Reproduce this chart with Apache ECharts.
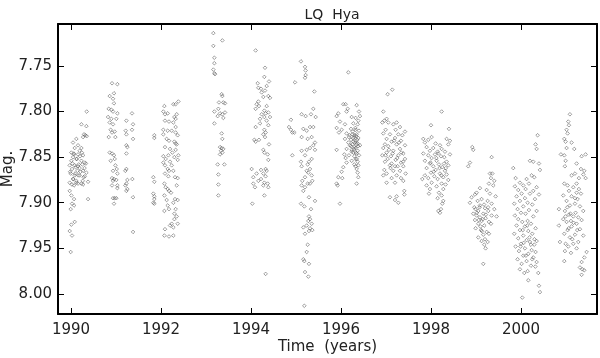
<!DOCTYPE html>
<html><head><meta charset="utf-8">
<script src="https://cdn.jsdelivr.net/npm/echarts@6/dist/echarts.min.js"></script>
<style>html,body{margin:0;padding:0;background:#fff}#c{width:600px;height:358px}</style>
</head><body><div id="c"></div>
<script>
const titleText = "LQ  Hya";
const xName = "Time  (years)";
const yName = "Mag.";
const xTicks = [1990, 1992, 1994, 1996, 1998, 2000];
const yTicks = [7.75, 7.80, 7.85, 7.90, 7.95, 8.00];

const s1 = [[1990.348,7.800],[1990.230,7.814],[1990.341,7.816],[1990.289,7.825],[1990.318,7.826],[1990.348,7.827],[1990.267,7.828],[1990.118,7.830],[1990.044,7.834],[1990.155,7.837],[1990.081,7.840],[1990.230,7.840],[1990.192,7.843],[1990.007,7.845],[1990.067,7.847],[1990.155,7.847],[1990.267,7.848],[1990.044,7.850],[1990.118,7.852],[1990.007,7.854],[1990.230,7.854],[1989.970,7.859],[1990.081,7.859],[1990.155,7.860],[1990.304,7.856],[1990.022,7.863],[1990.141,7.865],[1990.267,7.865],[1990.341,7.867],[1989.992,7.868],[1990.081,7.870],[1990.192,7.870],[1990.304,7.871],[1990.044,7.874],[1990.118,7.876],[1990.378,7.877],[1989.970,7.878],[1990.230,7.879],[1990.155,7.879],[1990.067,7.881],[1990.267,7.880],[1989.970,7.887],[1990.007,7.892],[1990.067,7.896],[1990.378,7.896],[1990.022,7.901],[1990.067,7.903],[1989.992,7.907],[1990.081,7.921],[1990.007,7.924],[1989.970,7.931],[1990.022,7.936],[1989.992,7.954],
[1990.03,7.857],[1990.10,7.861],[1990.17,7.858],[1990.21,7.866],[1990.25,7.858],[1990.09,7.868],[1990.13,7.852],[1990.28,7.872],[1990.05,7.874],[1990.20,7.849],[1990.30,7.862],[1989.98,7.866],[1990.12,7.878],[1990.24,7.845],[1990.16,7.870],[1990.06,7.846],[1990.33,7.857],[1990.26,7.876],[1990.02,7.880],[1990.19,7.862]];

const s2 = [[1990.911,7.769],[1991.030,7.770],[1990.859,7.783],[1990.955,7.780],[1990.933,7.786],[1990.955,7.791],[1990.837,7.797],[1990.896,7.798],[1990.933,7.800],[1991.030,7.802],[1990.822,7.806],[1990.896,7.808],[1991.007,7.808],[1990.859,7.812],[1990.933,7.814],[1990.881,7.820],[1990.911,7.823],[1990.970,7.822],[1990.837,7.828],[1990.985,7.828],[1990.859,7.845],[1990.911,7.846],[1990.955,7.848],[1990.881,7.854],[1990.970,7.852],[1990.985,7.859],[1991.015,7.863],[1990.933,7.865],[1991.030,7.868],[1990.911,7.873],[1990.955,7.874],[1990.933,7.876],[1991.007,7.875],[1990.911,7.881],[1991.030,7.881],[1991.030,7.884],[1990.970,7.895],[1990.933,7.895],[1991.007,7.895],[1990.955,7.901],
[1991.355,7.802],[1991.230,7.810],[1991.378,7.814],[1991.355,7.820],[1991.215,7.821],[1991.230,7.825],[1991.378,7.830],[1991.230,7.837],[1991.252,7.839],[1991.230,7.846],[1991.230,7.863],[1991.207,7.865],[1991.252,7.875],[1991.363,7.874],[1991.230,7.879],[1991.207,7.881],[1991.252,7.885],[1991.230,7.887],[1991.378,7.894],[1991.378,7.932]];

const s3 = [[1991.851,7.826],[1991.851,7.829],[1991.829,7.872],[1991.851,7.877],[1991.829,7.890],[1991.851,7.893],[1991.851,7.896],[1991.829,7.900],[1991.851,7.901],[1992.385,7.789],[1992.274,7.792],[1992.325,7.792],[1992.074,7.794],[1992.051,7.800],[1992.088,7.803],[1992.148,7.802],[1992.348,7.803],[1992.296,7.806],[1992.325,7.808],[1992.088,7.810],[1992.177,7.811],[1992.274,7.812],[1992.325,7.817],[1992.051,7.820],[1992.148,7.821],[1992.237,7.821],[1992.325,7.823],[1992.370,7.826],[1992.051,7.825],[1992.125,7.830],[1992.177,7.832],[1992.296,7.833],[1992.325,7.835],[1992.348,7.836],[1992.088,7.839],[1992.200,7.841],[1992.325,7.842],[1992.251,7.845],[1992.385,7.848],[1992.051,7.849],[1992.163,7.848],[1992.103,7.852],[1992.296,7.850],[1992.370,7.853],[1992.051,7.856],[1992.200,7.855],[1992.088,7.859],[1992.148,7.863],[1992.237,7.859],[1992.177,7.865],[1992.274,7.865],[1992.088,7.868],[1992.163,7.871],[1992.311,7.872],[1992.370,7.873],[1992.074,7.879],[1992.103,7.883],[1992.348,7.881],[1992.177,7.887],[1992.148,7.885],[1992.222,7.889],[1992.074,7.892],[1992.125,7.897],[1992.311,7.896],[1992.370,7.897],[1992.274,7.900],[1992.148,7.903],[1992.177,7.907],[1992.325,7.907],[1992.074,7.909],[1992.296,7.912],[1992.348,7.915],[1992.296,7.918],[1992.370,7.923],[1992.237,7.923],[1992.200,7.925],[1992.274,7.927],[1992.088,7.929],[1992.074,7.936],[1992.177,7.937],[1992.274,7.936]];

const s4 = [[1993.163,7.714],[1993.363,7.722],[1993.163,7.728],[1993.185,7.741],[1993.185,7.747],[1993.163,7.754],[1993.185,7.758],[1993.200,7.759],[1993.348,7.781],[1993.363,7.783],[1993.288,7.790],[1993.385,7.790],[1993.422,7.791],[1993.274,7.797],[1993.185,7.800],[1993.311,7.802],[1993.363,7.803],[1993.422,7.801],[1993.259,7.805],[1993.385,7.807],[1993.185,7.813],[1993.348,7.824],[1993.363,7.830],[1993.311,7.839],[1993.348,7.840],[1993.385,7.841],[1993.333,7.843],[1993.363,7.845],[1993.311,7.847],[1993.259,7.858],[1993.407,7.858],[1993.274,7.869],[1993.274,7.880],[1993.274,7.892]];

const s5 = [[1994.103,7.733],[1994.311,7.752],[1994.296,7.762],[1994.400,7.767],[1994.148,7.769],[1994.348,7.772],[1994.163,7.774],[1994.222,7.775],[1994.311,7.777],[1994.237,7.779],[1994.385,7.783],[1994.274,7.784],[1994.422,7.785],[1994.163,7.789],[1994.125,7.792],[1994.177,7.794],[1994.348,7.794],[1994.103,7.797],[1994.296,7.799],[1994.385,7.801],[1994.325,7.802],[1994.237,7.803],[1994.422,7.806],[1994.296,7.806],[1994.200,7.808],[1994.348,7.810],[1994.200,7.813],[1994.103,7.817],[1994.385,7.815],[1994.296,7.820],[1994.325,7.823],[1994.274,7.825],[1994.311,7.828],[1994.074,7.831],[1994.103,7.833],[1994.177,7.831],[1994.400,7.836],[1994.274,7.842],[1994.296,7.845],[1994.370,7.847],[1994.385,7.853],[1994.014,7.863],[1994.222,7.864],[1994.325,7.863],[1994.348,7.865],[1994.125,7.868],[1994.274,7.868],[1994.051,7.872],[1994.325,7.871],[1994.222,7.874],[1994.163,7.876],[1994.296,7.878],[1994.051,7.879],[1994.370,7.879],[1994.274,7.881],[1994.088,7.883],[1994.385,7.883],[1994.296,7.892],[1994.029,7.901],[1994.325,7.978]];

const s6 = [[1995.111,7.745],[1995.200,7.751],[1995.214,7.755],[1995.214,7.760],[1995.200,7.763],[1994.977,7.768],[1995.407,7.778],[1995.385,7.797],[1995.125,7.803],[1995.214,7.805],[1995.437,7.806],[1995.333,7.803],[1994.888,7.809],[1994.844,7.817],[1994.918,7.823],[1994.963,7.823],[1994.888,7.820],[1995.163,7.819],[1995.237,7.821],[1995.311,7.817],[1995.385,7.817],[1995.125,7.828],[1995.259,7.830],[1995.348,7.828],[1995.422,7.834],[1995.385,7.837],[1995.311,7.840],[1995.237,7.842],[1995.125,7.843],[1995.422,7.842],[1994.918,7.848],[1995.200,7.848],[1995.348,7.852],[1995.111,7.855],[1995.288,7.855],[1995.259,7.858],[1995.125,7.860],[1995.311,7.863],[1995.237,7.865],[1995.274,7.867],[1995.348,7.870],[1995.200,7.872],[1995.140,7.876],[1995.363,7.876],[1995.259,7.879],[1995.311,7.879],[1995.125,7.881],[1995.200,7.883],[1995.163,7.887],[1995.422,7.898],[1995.288,7.894],[1995.111,7.901],[1995.185,7.904],[1995.333,7.907],[1995.288,7.915],[1995.311,7.918],[1995.274,7.920],[1995.348,7.923],[1995.237,7.925],[1995.311,7.928],[1995.163,7.927],[1995.288,7.931],[1995.363,7.930],[1995.200,7.934],[1995.259,7.946],[1995.237,7.954],[1995.163,7.962],[1995.185,7.964],[1995.288,7.967],[1995.200,7.976],[1995.274,7.981],[1995.185,8.013]];

const s7 = [[1996.163,7.757],[1996.051,7.792],[1996.103,7.792],[1996.348,7.793],[1996.148,7.797],[1996.125,7.800],[1996.400,7.800],[1995.940,7.802],[1995.903,7.805],[1996.422,7.805],[1996.237,7.806],[1996.325,7.807],[1996.385,7.810],[1995.977,7.811],[1996.088,7.814],[1996.274,7.813],[1996.370,7.814],[1995.903,7.818],[1996.014,7.820],[1996.222,7.819],[1996.325,7.820],[1996.400,7.821],[1995.955,7.823],[1996.125,7.824],[1996.251,7.825],[1996.348,7.825],[1996.177,7.828],[1996.296,7.828],[1996.385,7.829],[1996.088,7.830],[1996.222,7.831],[1996.325,7.832],[1996.274,7.833],[1996.163,7.834],[1996.370,7.835],[1996.251,7.836],[1996.348,7.836],[1996.200,7.837],[1996.422,7.837],[1996.296,7.839],[1996.325,7.840],[1996.125,7.841],[1996.237,7.842],[1996.370,7.843],[1995.903,7.842],[1996.274,7.845],[1996.348,7.846],[1996.074,7.847],[1996.177,7.848],[1996.400,7.848],[1996.296,7.849],[1996.103,7.851],[1996.325,7.852],[1996.237,7.854],[1996.370,7.855],[1996.125,7.856],[1996.296,7.858],[1996.385,7.859],[1996.325,7.860],[1996.051,7.861],[1996.348,7.863],[1996.014,7.866],[1996.370,7.867],[1995.940,7.872],[1996.029,7.873],[1996.385,7.872],[1995.903,7.879],[1996.348,7.879],[1995.925,7.881],[1995.977,7.901],
[1996.26,7.822],[1996.31,7.834],[1996.34,7.827],[1996.29,7.841],[1996.36,7.831],[1996.22,7.838],[1996.33,7.845],[1996.27,7.829],[1996.38,7.838],[1996.30,7.826],[1996.24,7.844],[1996.35,7.852],[1996.19,7.826],[1996.32,7.818]];

const s8 = [[1997.140,7.776],[1997.037,7.781],[1996.940,7.800],[1997.014,7.808],[1996.963,7.810],[1996.918,7.812],[1997.051,7.812],[1997.237,7.812],[1997.163,7.814],[1997.311,7.817],[1996.992,7.820],[1997.214,7.820],[1997.422,7.822],[1996.940,7.824],[1997.088,7.825],[1997.274,7.825],[1997.363,7.826],[1997.014,7.830],[1997.200,7.829],[1997.125,7.833],[1997.333,7.832],[1996.977,7.836],[1997.237,7.836],[1997.422,7.837],[1996.940,7.840],[1997.066,7.842],[1997.311,7.841],[1997.163,7.843],[1997.014,7.845],[1997.385,7.846],[1996.918,7.848],[1997.111,7.849],[1997.274,7.848],[1997.037,7.852],[1997.214,7.853],[1997.422,7.852],[1996.977,7.855],[1997.333,7.856],[1997.125,7.857],[1997.088,7.859],[1997.259,7.860],[1997.385,7.860],[1996.963,7.864],[1997.163,7.865],[1997.311,7.865],[1997.014,7.868],[1997.437,7.868],[1997.237,7.870],[1996.940,7.870],[1997.125,7.873],[1997.333,7.873],[1997.385,7.876],[1997.014,7.878],[1997.200,7.878],[1997.407,7.887],[1997.407,7.891],[1997.088,7.894],[1997.237,7.893],[1997.200,7.897],[1997.274,7.900],
[1997.05,7.838],[1997.15,7.846],[1997.25,7.851],[1997.34,7.845],[1997.10,7.862],[1997.20,7.860],[1997.29,7.834],[1996.99,7.848],[1997.18,7.832],[1997.38,7.855]];

const s9 = [[1998.237,7.800],[1998.000,7.815],[1998.400,7.819],[1998.014,7.828],[1997.829,7.830],[1997.940,7.831],[1998.348,7.830],[1998.422,7.832],[1997.866,7.834],[1998.103,7.835],[1998.200,7.837],[1998.385,7.836],[1997.903,7.839],[1998.051,7.840],[1998.237,7.841],[1997.977,7.843],[1998.148,7.844],[1998.311,7.844],[1997.829,7.846],[1998.088,7.847],[1998.422,7.847],[1997.940,7.848],[1998.222,7.849],[1998.014,7.851],[1998.296,7.850],[1997.866,7.854],[1998.125,7.854],[1998.348,7.855],[1997.977,7.857],[1998.177,7.858],[1998.385,7.859],[1998.051,7.860],[1997.903,7.862],[1998.251,7.861],[1998.103,7.864],[1998.311,7.865],[1998.000,7.867],[1998.200,7.868],[1998.348,7.869],[1997.866,7.870],[1998.074,7.871],[1998.274,7.872],[1997.940,7.873],[1998.148,7.874],[1998.385,7.875],[1997.807,7.874],[1998.014,7.878],[1998.237,7.879],[1998.325,7.880],[1997.903,7.881],[1998.125,7.882],[1997.977,7.885],[1998.274,7.885],[1998.177,7.889],[1997.955,7.890],[1998.237,7.892],[1998.148,7.895],[1998.274,7.898],[1998.251,7.901],[1998.163,7.909],[1998.222,7.907],[1998.200,7.911],
[1998.12,7.851],[1998.19,7.862],[1998.29,7.857],[1998.06,7.866],[1998.23,7.870],[1998.33,7.862],[1997.99,7.856],[1998.16,7.846]];

const s10 = [[1998.918,7.839],[1998.940,7.842],[1999.348,7.850],[1998.866,7.856],[1998.829,7.860],[1999.311,7.868],[1999.363,7.868],[1999.333,7.873],[1999.407,7.876],[1999.288,7.879],[1999.385,7.881],[1999.088,7.884],[1999.237,7.886],[1999.014,7.889],[1999.311,7.890],[1998.977,7.891],[1999.437,7.893],[1998.903,7.894],[1999.125,7.896],[1999.037,7.898],[1999.259,7.898],[1998.866,7.900],[1999.348,7.901],[1999.088,7.903],[1998.963,7.905],[1999.200,7.906],[1999.407,7.907],[1999.051,7.909],[1999.274,7.909],[1998.940,7.912],[1999.163,7.912],[1999.014,7.914],[1999.348,7.914],[1999.088,7.916],[1999.214,7.917],[1999.459,7.915],[1998.977,7.919],[1999.125,7.920],[1999.288,7.921],[1999.051,7.923],[1999.185,7.925],[1998.992,7.928],[1999.333,7.923],[1999.111,7.930],[1999.237,7.932],[1999.163,7.935],[1999.288,7.934],[1999.051,7.938],[1999.200,7.940],[1999.125,7.942],[1999.259,7.943],[1999.185,7.946],[1999.214,7.950],[1999.163,7.967],
[1999.08,7.905],[1999.15,7.918],[1999.02,7.911],[1999.22,7.913],[1999.10,7.926],[1999.18,7.902],[1999.06,7.919],[1999.27,7.905],[1999.13,7.931],[1998.99,7.907]];

const s11 = [[2000.370,7.826],[2000.325,7.836],[2000.348,7.841],[2000.200,7.854],[2000.274,7.855],[2000.400,7.857],[1999.829,7.862],[2000.422,7.864],[2000.237,7.870],[2000.296,7.872],[1999.881,7.873],[2000.125,7.874],[1999.977,7.878],[2000.177,7.879],[2000.051,7.881],[1999.866,7.882],[2000.348,7.883],[2000.103,7.885],[1999.940,7.886],[2000.274,7.887],[2000.014,7.890],[2000.200,7.890],[2000.400,7.891],[1999.903,7.893],[2000.088,7.895],[2000.311,7.896],[1999.977,7.898],[2000.148,7.900],[1999.851,7.901],[2000.251,7.902],[2000.051,7.904],[1999.925,7.907],[2000.177,7.908],[2000.348,7.909],[2000.000,7.911],[2000.103,7.912],[1999.866,7.914],[2000.274,7.915],[1999.940,7.918],[2000.148,7.920],[2000.029,7.921],[2000.222,7.923],[1999.903,7.925],[2000.088,7.926],[2000.325,7.928],[1999.977,7.930],[2000.163,7.931],[1999.851,7.934],[2000.251,7.934],[2000.051,7.936],[1999.940,7.939],[2000.125,7.941],[2000.348,7.942],[2000.200,7.943],[2000.000,7.945],[2000.296,7.946],[1999.881,7.948],[2000.088,7.950],[2000.237,7.952],[1999.955,7.953],[2000.325,7.954],[2000.163,7.956],[2000.051,7.958],[2000.274,7.960],[1999.925,7.962],[2000.125,7.964],[2000.348,7.965],[2000.014,7.967],[2000.222,7.969],[1999.977,7.973],[2000.148,7.975],[2000.074,7.977],[2000.385,7.977],[2000.163,7.985],[2000.400,7.991],[2000.422,7.998],[2000.029,8.004],
[2000.06,7.944],[2000.19,7.938],[2000.11,7.958],[2000.25,7.962],[1999.99,7.948],[2000.30,7.940],[2000.14,7.925],[2000.22,7.946],[2000.04,7.930],[2000.32,7.970]];

const s12 = [[2001.088,7.803],[2001.051,7.811],[2001.066,7.815],[2001.014,7.820],[2001.037,7.824],[2000.963,7.830],[2000.992,7.833],[2001.125,7.834],[2001.014,7.840],[2001.185,7.841],[2000.888,7.847],[2000.963,7.848],[2001.437,7.847],[2001.348,7.849],[2000.992,7.854],[2001.237,7.857],[2000.977,7.860],[2001.333,7.863],[2001.407,7.865],[2001.200,7.868],[2001.385,7.869],[2001.125,7.870],[2001.288,7.873],[2001.437,7.873],[2000.963,7.879],[2001.237,7.879],[2001.037,7.881],[2001.163,7.883],[2001.288,7.885],[2001.066,7.887],[2001.237,7.889],[2001.333,7.890],[2000.940,7.892],[2001.125,7.893],[2001.259,7.896],[2001.014,7.898],[2001.200,7.901],[2001.088,7.903],[2001.311,7.904],[2000.844,7.907],[2000.977,7.909],[2001.214,7.911],[2001.385,7.909],[2001.066,7.913],[2001.163,7.915],[2001.274,7.916],[2000.940,7.918],[2001.111,7.920],[2001.348,7.919],[2001.014,7.921],[2001.237,7.923],[2000.844,7.925],[2001.125,7.926],[2001.037,7.930],[2001.311,7.929],[2000.963,7.934],[2001.200,7.935],[2001.088,7.938],[2001.385,7.936],[2000.866,7.943],[2000.992,7.945],[2001.163,7.945],[2001.274,7.943],[2001.051,7.948],[2001.237,7.950],[2000.977,7.953],[2001.111,7.955],[2001.459,7.954],[2000.963,7.964],[2001.407,7.960],[2001.348,7.965],[2001.311,7.971],[2001.363,7.973],[2001.407,7.974],[2001.348,7.979],
[2001.03,7.905],[2001.17,7.922],[2001.10,7.912],[2001.25,7.930],[2001.06,7.928],[2001.20,7.895],[2000.99,7.915],[2001.14,7.940]];

const seasons = [s1, s2, s3, s4, s5, s6, s7, s8, s9, s10, s11, s12];
const allPoints = [].concat(...seasons);

const chart = echarts.init(document.getElementById('c'), null, {renderer: 'canvas'});
const fontFam = '"DejaVu Sans", sans-serif';
const xMin = 1989.71, xMax = 2001.69, yMin = 7.704, yMax = 8.022;
const xFmt = v => xTicks.includes(Math.round(v * 1000) / 1000) ? String(Math.round(v)) : '';
const yFmt = v => yTicks.some(t => Math.abs(t - v) < 1e-6) ? v.toFixed(2) : '';
const lineStyle = {color: '#000', width: 2};
chart.setOption({
  animation: false,
  backgroundColor: '#fff',
  title: {text: titleText, left: 327, top: 3, textAlign: 'center',
    textStyle: {fontFamily: fontFam, fontSize: 14, fontWeight: 'normal', color: '#222'}},
  grid: {left: 58, right: 3, top: 24, bottom: 44, containLabel: false, outerBoundsMode: 'none'},
  xAxis: [
    {type: 'value', position: 'bottom', min: xMin, max: xMax, splitNumber: 6,
     name: xName, nameLocation: 'middle', nameGap: 26, nameMoveOverlap: false,
     nameTextStyle: {fontFamily: fontFam, fontSize: 15, color: '#222'},
     axisLine: {show: true, lineStyle: lineStyle},
     axisTick: {show: true, inside: true, length: 6, lineStyle: {color: '#000', width: 1}},
     axisLabel: {formatter: xFmt, fontFamily: fontFam, fontSize: 15, color: '#222', margin: 9, showMinLabel: false, showMaxLabel: false},
     splitLine: {show: false}},
    {type: 'value', position: 'top', min: xMin, max: xMax, splitNumber: 6,
     axisLine: {show: true, lineStyle: lineStyle},
     axisTick: {show: true, inside: true, length: 6, lineStyle: {color: '#000', width: 1}},
     axisLabel: {show: false}, splitLine: {show: false}}
  ],
  yAxis: [
    {type: 'value', position: 'left', inverse: true, min: yMin, max: yMax, splitNumber: 6,
     name: yName, nameLocation: 'middle', nameGap: 42, nameRotate: 90, nameMoveOverlap: false,
     nameTextStyle: {fontFamily: fontFam, fontSize: 15, color: '#222'},
     axisLine: {show: true, lineStyle: lineStyle},
     axisTick: {show: true, inside: true, length: 6, lineStyle: {color: '#000', width: 1}},
     axisLabel: {formatter: yFmt, fontFamily: fontFam, fontSize: 15, color: '#222', margin: 6, showMinLabel: false, showMaxLabel: false},
     splitLine: {show: false}},
    {type: 'value', position: 'right', inverse: true, min: yMin, max: yMax, splitNumber: 6,
     axisLine: {show: true, lineStyle: lineStyle},
     axisTick: {show: true, inside: true, length: 6, lineStyle: {color: '#000', width: 1}},
     axisLabel: {show: false}, splitLine: {show: false}}
  ],
  series: [{
    type: 'scatter', xAxisIndex: 0, yAxisIndex: 0,
    data: allPoints, symbol: 'diamond', symbolSize: 3.6,
    itemStyle: {color: 'rgba(0,0,0,0)', borderColor: '#555', borderWidth: 0.7},
    emphasis: {disabled: true}, silent: true
  }]
});
</script></body></html>
